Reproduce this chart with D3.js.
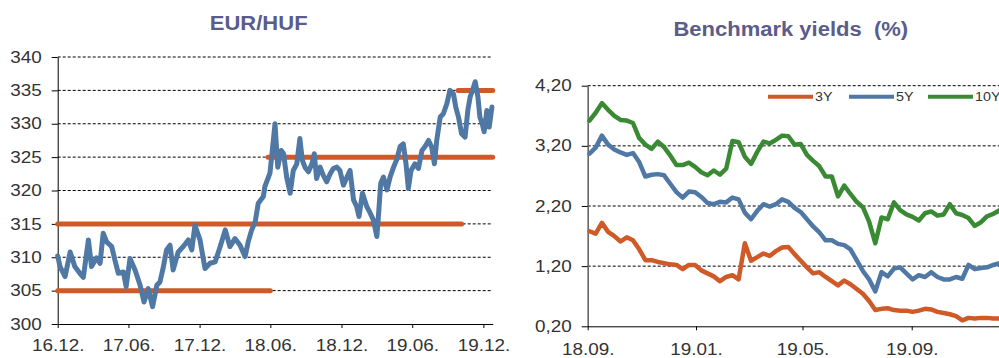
<!DOCTYPE html>
<html>
<head>
<meta charset="utf-8">
<script src="https://cdn.jsdelivr.net/npm/d3@7"></script>
<style>
html,body{margin:0;padding:0;background:#fff;}
svg{display:block;}
</style>
</head>
<body>
<script>
// ---------- EUR/HUF data ----------
const fxDates = ["2016-12-01","2016-12-07","2016-12-20","2017-01-02","2017-01-14","2017-01-27","2017-02-05","2017-02-18","2017-02-26","2017-03-11",
"2017-03-20","2017-03-28","2017-04-06","2017-04-19","2017-04-27","2017-05-06","2017-05-19","2017-05-26","2017-06-05","2017-06-18",
"2017-07-01","2017-07-11","2017-07-22","2017-08-02","2017-08-13","2017-08-21","2017-08-30","2017-09-07","2017-09-16","2017-09-24",
"2017-10-07","2017-10-20","2017-11-02","2017-11-11","2017-11-19","2017-12-02","2017-12-15","2017-12-28","2018-01-10","2018-01-23",
"2018-02-05","2018-02-17","2018-03-02","2018-03-15","2018-03-28","2018-04-05","2018-04-14","2018-04-23","2018-05-01","2018-05-14",
"2018-05-18","2018-05-31","2018-06-06","2018-06-13","2018-06-20","2018-06-29","2018-07-05","2018-07-13","2018-07-22","2018-07-30",
"2018-08-08","2018-08-16","2018-08-22","2018-08-29","2018-09-07","2018-09-16","2018-09-22","2018-09-28","2018-10-07","2018-10-15",
"2018-10-24","2018-11-02","2018-11-10","2018-11-19","2018-11-27","2018-12-06","2018-12-15","2018-12-23","2019-01-01","2019-01-09",
"2019-01-15","2019-01-24","2019-02-04","2019-02-13","2019-02-21","2019-03-02","2019-03-06","2019-03-12","2019-03-19","2019-03-28",
"2019-04-05","2019-04-14","2019-04-22","2019-05-01","2019-05-09","2019-05-16","2019-05-22","2019-05-29","2019-06-08","2019-06-17",
"2019-06-26","2019-07-04","2019-07-13","2019-07-21","2019-07-28","2019-08-03","2019-08-12","2019-08-20","2019-08-29","2019-09-06",
"2019-09-15","2019-09-21","2019-09-28","2019-10-06","2019-10-15","2019-10-22","2019-10-28","2019-11-03","2019-11-10","2019-11-17",
"2019-11-22","2019-11-28","2019-12-03","2019-12-10","2019-12-16","2019-12-23"];
const fxValues = [310.2,308.6,307.1,310.8,308.6,307.6,307.0,312.6,308.6,309.9,
309.1,313.6,312.3,311.6,309.6,307.6,307.8,305.6,309.8,308.1,
305.8,303.3,305.3,302.6,305.8,306.3,308.6,311.1,311.8,308.1,
310.8,311.6,312.6,311.1,314.8,312.6,308.3,309.1,309.3,311.6,
314.1,311.6,312.8,311.8,310.1,312.3,314.1,315.3,318.1,319.1,
320.6,322.6,326.0,330.0,323.5,326.0,325.5,322.0,319.6,323.0,
324.0,327.8,324.6,323.5,322.8,324.0,325.5,321.8,323.5,322.3,
321.3,322.5,323.3,323.5,323.0,320.8,322.0,323.0,318.6,317.6,
316.1,319.6,317.6,316.6,315.6,313.1,316.1,321.1,322.0,320.1,
322.0,323.5,324.6,326.6,327.0,324.0,320.3,323.0,324.0,323.3,
326.0,326.6,327.5,326.5,324.0,327.5,331.0,331.5,333.0,335.0,
334.5,332.5,331.0,328.5,328.0,332.0,334.0,335.0,336.3,334.0,
331.0,330.0,328.8,332.0,329.5,332.5];
const fxLevels = [305, 315, 325, 335];
const fxLevelStart = ["2016-12-01","2016-12-01","2018-05-26","2019-09-27"];
const fxLevelEnd = ["2018-06-01","2019-10-06","2019-12-25","2019-12-25"];
const fxYTicks = [300,305,310,315,320,325,330,335,340];
const fxXTicks = ["2016-12-01","2017-06-01","2017-12-01","2018-06-01","2018-12-01","2019-06-01","2019-12-01"];

// ---------- Benchmark yields data ----------
const yieldDates = ["2018-09-03","2018-09-10","2018-09-17","2018-09-24","2018-10-01","2018-10-08","2018-10-15","2018-10-22","2018-10-29","2018-11-05",
"2018-11-12","2018-11-19","2018-11-26","2018-12-03","2018-12-10","2018-12-17","2018-12-24","2018-12-31","2019-01-07","2019-01-14",
"2019-01-21","2019-01-28","2019-02-04","2019-02-11","2019-02-18","2019-02-25","2019-03-04","2019-03-11","2019-03-18","2019-03-25",
"2019-04-01","2019-04-08","2019-04-15","2019-04-22","2019-04-29","2019-05-06","2019-05-13","2019-05-20","2019-05-27","2019-06-03",
"2019-06-10","2019-06-17","2019-06-24","2019-07-01","2019-07-08","2019-07-15","2019-07-22","2019-07-29","2019-08-05","2019-08-12",
"2019-08-19","2019-08-26","2019-09-02","2019-09-09","2019-09-16","2019-09-23","2019-09-30","2019-10-07","2019-10-14","2019-10-21",
"2019-10-28","2019-11-04","2019-11-11","2019-11-18","2019-11-25","2019-12-02","2019-12-09","2019-12-16"];
const y3 = [1.78,1.74,1.92,1.77,1.70,1.61,1.68,1.63,1.48,1.30,
1.30,1.27,1.25,1.23,1.22,1.15,1.22,1.22,1.13,1.08,
1.03,0.95,1.02,1.05,0.98,1.58,1.29,1.35,1.41,1.37,
1.45,1.51,1.52,1.40,1.29,1.18,1.08,1.10,1.02,0.95,
0.88,0.96,0.90,0.82,0.74,0.62,0.47,0.49,0.50,0.47,
0.46,0.46,0.44,0.46,0.49,0.48,0.44,0.42,0.40,0.37,
0.30,0.34,0.33,0.34,0.34,0.33,0.33,0.33];
const y5 = [3.07,3.17,3.37,3.22,3.14,3.09,3.05,3.08,2.93,2.69,
2.72,2.73,2.71,2.57,2.43,2.34,2.44,2.43,2.35,2.25,
2.23,2.27,2.26,2.34,2.31,2.09,1.98,2.12,2.23,2.19,
2.23,2.31,2.27,2.17,2.10,1.98,1.86,1.76,1.63,1.63,
1.57,1.55,1.48,1.30,1.12,0.98,0.78,1.10,1.03,1.16,
1.18,1.08,0.98,1.05,1.02,1.10,1.02,0.98,0.98,1.02,
0.99,1.22,1.15,1.17,1.18,1.22,1.25,1.24];
const y10 = [3.62,3.75,3.91,3.80,3.70,3.63,3.62,3.58,3.33,3.22,
3.15,3.27,3.18,3.04,2.88,2.88,2.92,2.85,2.76,2.71,
2.79,2.72,2.82,3.28,3.26,3.02,2.90,3.10,3.27,3.24,
3.30,3.37,3.36,3.22,3.23,3.05,2.95,2.86,2.69,2.69,
2.36,2.54,2.40,2.27,2.18,1.94,1.58,2.01,1.98,2.26,
2.13,2.06,2.02,1.96,2.08,2.11,2.04,2.06,2.23,2.08,
2.05,2.00,1.87,1.93,2.03,2.07,2.13,2.10];
const yieldNames = ["3Y","5Y","10Y"];
const yieldYTicks = [0.2,1.2,2.2,3.2,4.2];
const yieldXTicks = ["2018-09-01","2019-01-01","2019-05-01","2019-09-01"];

// ---------- styles ----------
const C_BLUE = "#4f78a5", C_ORANGE = "#cf5a28", C_GREEN = "#3a8a34";
const C_TITLE = "#5b5b8c", C_TEXT = "#333333";
const FONT = "'Liberation Sans', Arial, sans-serif";

const parse = d3.timeParse("%Y-%m-%d");
const svg = d3.select("body").append("svg").attr("width", 999).attr("height", 358);

function stretch(sel, f) {
  sel.each(function() {
    const len = this.getComputedTextLength();
    d3.select(this).attr("textLength", len * f).attr("lengthAdjust", "spacingAndGlyphs");
  });
}

// ================= LEFT: EUR/HUF =================
const L = {x0: 57.7, x1: 492.7, yTop: 57, yBot: 324};
const xL = d3.scaleTime().domain([parse("2016-12-01"), parse("2019-12-25")]).range([L.x0, L.x1]);
const yL = d3.scaleLinear().domain([300, 340]).range([L.yBot, L.yTop]);

const gL = svg.append("g");
gL.append("g").selectAll("line").data(fxYTicks.filter(t => t !== 300)).join("line")
  .attr("x1", L.x0).attr("x2", L.x1).attr("y1", d => yL(d)).attr("y2", d => yL(d))
  .attr("stroke", "#000").attr("stroke-width", 1).attr("stroke-dasharray", "3,2");

const axYL = gL.append("g").attr("transform", `translate(${L.x0},0)`)
  .call(d3.axisLeft(yL).tickValues(fxYTicks).tickSize(6).tickSizeOuter(0).tickPadding(10).tickFormat(d3.format("d")));
const axXL = gL.append("g").attr("transform", `translate(0,${L.yBot})`)
  .call(d3.axisBottom(xL).tickValues(fxXTicks.map(parse)).tickSize(4).tickSizeOuter(0).tickPadding(12).tickFormat(d3.timeFormat("%y.%m.")));

// level lines
const levels = fxLevels.map((v, i) => ({v, s: parse(fxLevelStart[i]), e: parse(fxLevelEnd[i])}));
gL.append("g").selectAll("line").data(levels).join("line")
  .attr("x1", d => xL(d.s)).attr("x2", d => xL(d.e)).attr("y1", d => yL(d.v)).attr("y2", d => yL(d.v))
  .attr("stroke", C_ORANGE).attr("stroke-width", 5).attr("stroke-linecap", "round");

const fxData = fxDates.map((d, i) => ({d: parse(d), v: fxValues[i]}));
gL.append("path").datum(fxData)
  .attr("fill", "none").attr("stroke", C_BLUE).attr("stroke-width", 5)
  .attr("stroke-linejoin", "round").attr("stroke-linecap", "round")
  .attr("d", d3.line().x(d => xL(d.d)).y(d => yL(d.v)));

gL.append("text").attr("class", "title").attr("x", 258.7).attr("y", 30)
  .attr("text-anchor", "middle").attr("font-family", FONT).attr("font-weight", "bold")
  .attr("font-size", 20).attr("fill", C_TITLE).text("EUR/HUF");

// ================= RIGHT: Benchmark yields =================
const R = {x0: 587.7, yTop: 85.7, yBot: 326.3};
const xR = d3.scaleTime().domain([parse("2018-09-01"), parse("2019-12-31")]).range([R.x0, R.x0 + 486 * 0.8877]);
const yR = d3.scaleLinear().domain([0.2, 4.2]).range([R.yBot, R.yTop]);

const gR = svg.append("g");
gR.append("g").selectAll("line").data(yieldYTicks.filter(t => t !== 0.2)).join("line")
  .attr("x1", R.x0).attr("x2", 1020).attr("y1", d => yR(d)).attr("y2", d => yR(d))
  .attr("stroke", "#000").attr("stroke-width", 1).attr("stroke-dasharray", "3,2");

const commaFmt = d => d3.format(".2f")(d).replace(".", ",");
const axYR = gR.append("g").attr("transform", `translate(${R.x0},0)`)
  .call(d3.axisLeft(yR).tickValues(yieldYTicks).tickSize(6).tickSizeOuter(0).tickPadding(10).tickFormat(commaFmt));
const axXR = gR.append("g").attr("transform", `translate(0,${R.yBot})`)
  .call(d3.axisBottom(xR).tickValues(yieldXTicks.map(parse)).tickSize(4).tickSizeOuter(0).tickPadding(13.5).tickFormat(d3.timeFormat("%y.%m.")));
axXR.select(".domain").attr("d", `M${R.x0},0.5H1020`);
axYR.select(".domain").attr("stroke", "#666").attr("stroke-width", 1.6);

const ySeries = [y3, y5, y10];
const yColors = [C_ORANGE, C_BLUE, C_GREEN];
const yLine = d3.line().x(d => xR(d.d)).y(d => yR(d.v));
ySeries.forEach((arr, k) => {
  const data = yieldDates.map((d, i) => ({d: parse(d), v: arr[i]}));
  gR.append("path").datum(data)
    .attr("fill", "none").attr("stroke", yColors[k]).attr("stroke-width", 4.5)
    .attr("stroke-linejoin", "round").attr("stroke-linecap", "round")
    .attr("d", yLine);
});

// legend
const legX = [768, 849, 928];
const legG = gR.append("g");
yieldNames.forEach((n, k) => {
  legG.append("line").attr("x1", legX[k]).attr("x2", legX[k] + 45).attr("y1", 96.7).attr("y2", 96.7)
    .attr("stroke", yColors[k]).attr("stroke-width", 4);
  legG.append("text").attr("class", "leg").attr("x", legX[k] + 47).attr("y", 101.3)
    .attr("font-family", FONT).attr("font-size", 13).attr("fill", C_TEXT).text(n);
});

gR.append("text").attr("class", "title").attr("x", 790.8).attr("y", 36)
  .attr("text-anchor", "middle").attr("font-family", FONT).attr("font-weight", "bold")
  .attr("font-size", 20).attr("fill", C_TITLE).attr("xml:space", "preserve")
  .style("white-space", "pre").text("Benchmark yields  (%)");

// axis styling
[axYL, axXL, axYR, axXR].forEach(ax => {
  ax.attr("font-family", FONT).attr("font-size", 16);
  ax.selectAll(".tick line").attr("stroke", "#000");
  ax.selectAll(".tick text").attr("fill", C_TEXT);
});
axXL.select(".domain").attr("stroke", "#000");
axYL.select(".domain").attr("stroke", "#000");

stretch(svg.selectAll(".tick text"), 1.18);
stretch(svg.selectAll("text.title"), 1.1);
stretch(svg.selectAll("text.leg"), 1.1);
</script>
</body>
</html>
